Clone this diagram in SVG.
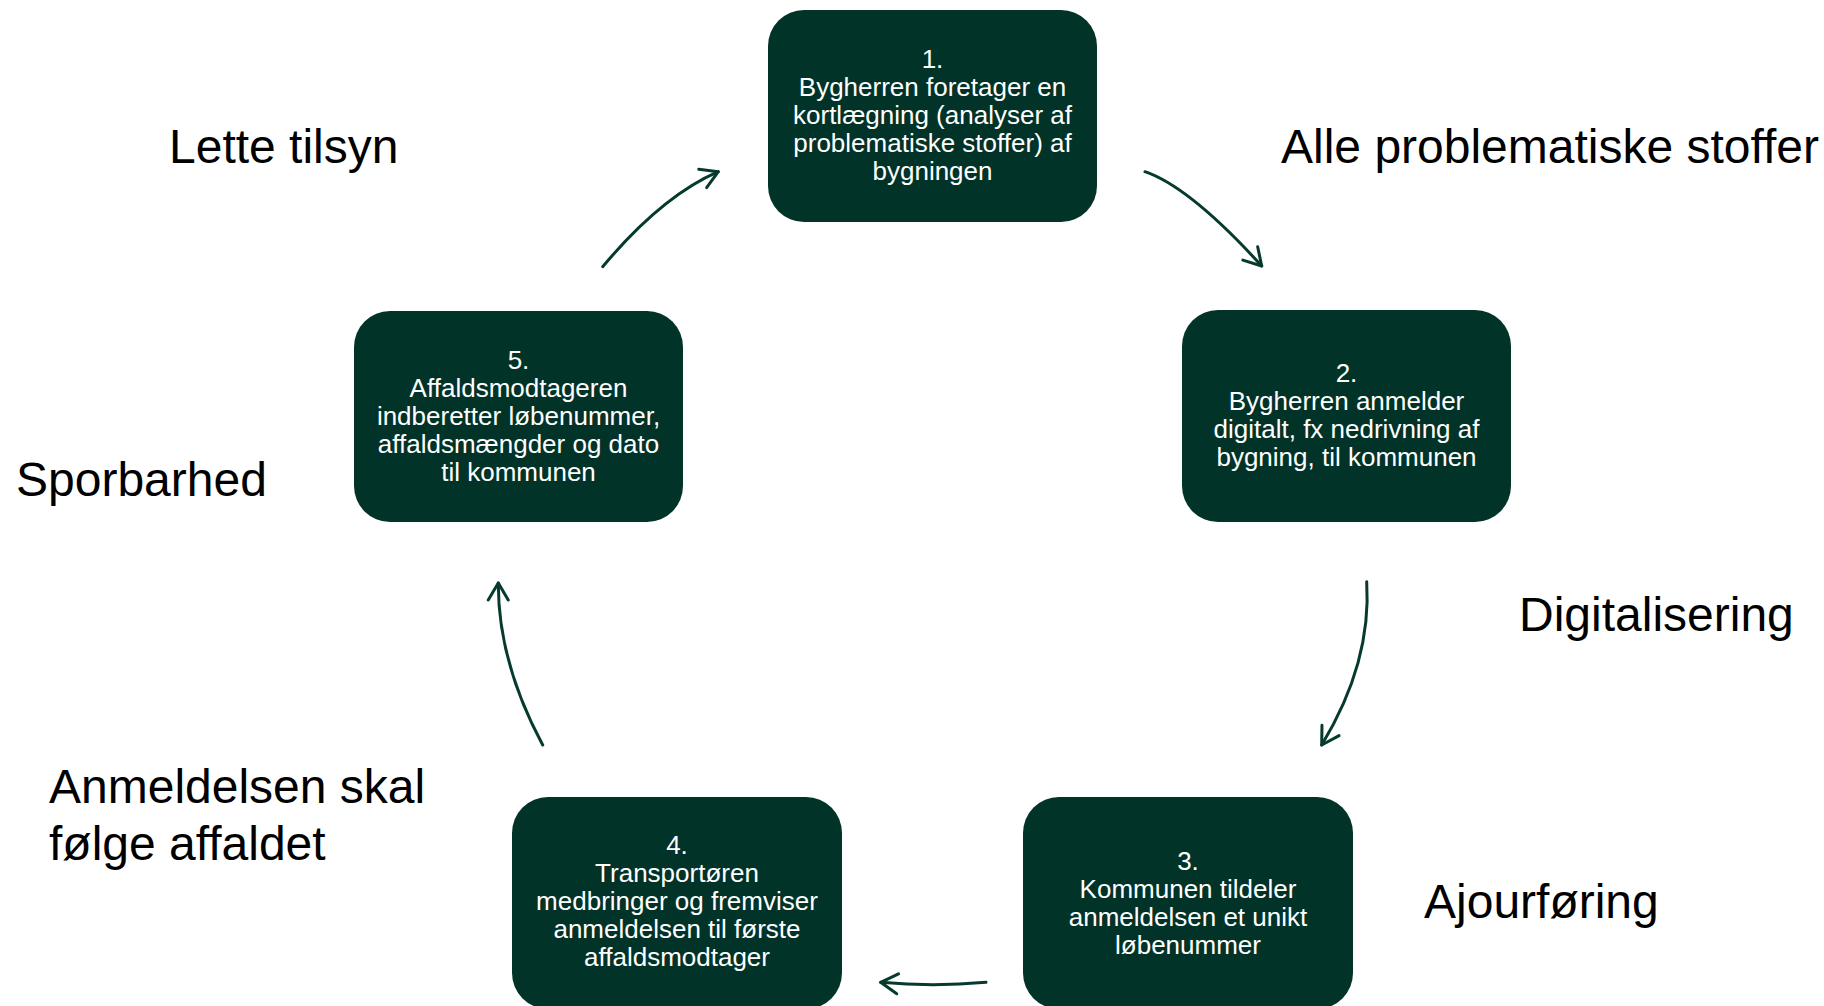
<svg xmlns="http://www.w3.org/2000/svg" width="1824" height="1006" viewBox="0 0 1824 1006">
<style>
.box{fill:#023328;}
.nt{font-family:"Liberation Sans",Arial,sans-serif;font-size:26px;fill:#ffffff;text-anchor:middle;}
.lab{font-family:"Liberation Sans",Arial,sans-serif;font-size:48px;fill:#000000;}
.conn{fill:none;stroke:#063a2e;stroke-width:3;stroke-linecap:round;}
</style>
<defs>
<marker id="arr" markerUnits="userSpaceOnUse" viewBox="-22 -14 26 28" refX="0" refY="0" markerWidth="26" markerHeight="28" orient="auto" overflow="visible">
<path d="M-17,-10 L0,0 L-17,10" fill="none" stroke="#063a2e" stroke-width="3" stroke-linecap="round" stroke-linejoin="round"/>
</marker>
</defs>
<rect width="1824" height="1006" fill="#ffffff"/>
<g id="connectors">
<path class="conn" marker-end="url(#arr)" d="M1145,171.7 Q1190,187.2 1261.7,266"/>
<path class="conn" marker-end="url(#arr)" d="M1366.7,581.7 Q1371.8,662.6 1321.7,745"/>
<path class="conn" marker-end="url(#arr)" d="M986,982.3 Q933,987 880.7,982.3"/>
<path class="conn" marker-end="url(#arr)" d="M542.7,745 Q498,662 498.3,583"/>
<path class="conn" marker-end="url(#arr)" d="M602.7,266.7 Q662,196 718.3,171.7"/>
</g>
<g id="node1">
<rect class="box" x="768" y="10" width="329" height="212" rx="36"/>
<text class="nt" x="932.5" y="68">1.</text>
<text class="nt" x="932.5" y="96">Bygherren foretager en</text>
<text class="nt" x="932.5" y="124">kortlægning (analyser af</text>
<text class="nt" x="932.5" y="152">problematiske stoffer) af</text>
<text class="nt" x="932.5" y="180">bygningen</text>
</g>
<g id="node2">
<rect class="box" x="1182" y="310" width="329" height="212" rx="36"/>
<text class="nt" x="1346.5" y="382">2.</text>
<text class="nt" x="1346.5" y="410">Bygherren anmelder</text>
<text class="nt" x="1346.5" y="438">digitalt, fx nedrivning af</text>
<text class="nt" x="1346.5" y="466">bygning, til kommunen</text>
</g>
<g id="node3">
<rect class="box" x="1023" y="797" width="330" height="212" rx="36"/>
<text class="nt" x="1188" y="870">3.</text>
<text class="nt" x="1188" y="898">Kommunen tildeler</text>
<text class="nt" x="1188" y="926">anmeldelsen et unikt</text>
<text class="nt" x="1188" y="954">løbenummer</text>
</g>
<g id="node4">
<rect class="box" x="512" y="797" width="330" height="212" rx="36"/>
<text class="nt" x="677" y="854">4.</text>
<text class="nt" x="677" y="882">Transportøren</text>
<text class="nt" x="677" y="910">medbringer og fremviser</text>
<text class="nt" x="677" y="938">anmeldelsen til første</text>
<text class="nt" x="677" y="966">affaldsmodtager</text>
</g>
<g id="node5">
<rect class="box" x="354" y="311" width="329" height="211" rx="36"/>
<text class="nt" x="518.5" y="369">5.</text>
<text class="nt" x="518.5" y="397">Affaldsmodtageren</text>
<text class="nt" x="518.5" y="425">indberetter løbenummer,</text>
<text class="nt" x="518.5" y="453">affaldsmængder og dato</text>
<text class="nt" x="518.5" y="481">til kommunen</text>
</g>
<g id="labels">
<text class="lab" x="169" y="163">Lette tilsyn</text>
<text class="lab" x="1281" y="163">Alle problematiske stoffer</text>
<text class="lab" x="16" y="496">Sporbarhed</text>
<text class="lab" x="1519" y="631">Digitalisering</text>
<text class="lab" x="1424" y="918">Ajourføring</text>
<text class="lab" x="49" y="803">Anmeldelsen skal</text>
<text class="lab" x="49" y="860">følge affaldet</text>
</g>
</svg>
